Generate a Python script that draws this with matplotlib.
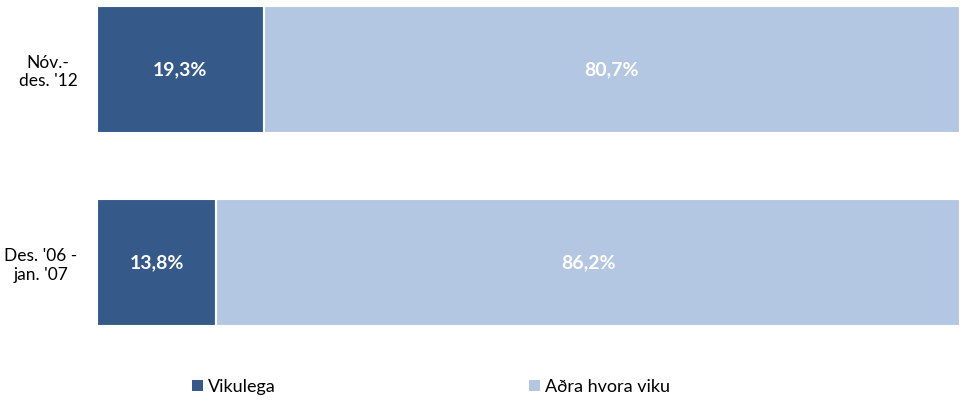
import matplotlib.pyplot as plt
from matplotlib.patches import Patch

plt.rcParams['font.family'] = ['Lato', 'DejaVu Sans']

# periods, bottom to top
periods = ["Des. '06 -\njan. '07", "Nóv.-\ndes. '12"]
vikulega = [13.8, 19.3]
adra_hvora = [86.2, 80.7]
series_names = ['Vikulega', 'Aðra hvora viku']

dark = '#355A89'
light = '#B4C7E2'

fig = plt.figure(figsize=(9.68, 4.03), dpi=100)
ax = fig.add_axes([97 / 968, 77 / 403, 863 / 968, 320 / 403])

ypos = [0, 1]
h = 0.656
ax.barh(ypos, vikulega, height=h, color=dark, edgecolor='white', linewidth=1.5)
ax.barh(ypos, adra_hvora, left=vikulega, height=h, color=light, edgecolor='white', linewidth=1.5)

# value labels in the middle of each segment
for y, a, b in zip(ypos, vikulega, adra_hvora):
    ax.text(a / 2, y, f"{a:.1f}%".replace('.', ','), ha='center', va='center',
            color='white', fontsize=14, fontweight='bold')
    ax.text(a + b / 2, y, f"{b:.1f}%".replace('.', ','), ha='center', va='center',
            color='white', fontsize=14, fontweight='bold')

ax.set_xlim(0, 100)
ax.set_ylim(-h / 2, 1 + h / 2)
ax.set_yticks(ypos)
ax.set_yticklabels(periods, fontsize=12.5, multialignment='center')
ax.tick_params(axis='y', length=0, pad=14)
ax.set_xticks([])
for s in ax.spines.values():
    s.set_visible(False)

handles = [Patch(facecolor=dark), Patch(facecolor=light)]
fig.legend(handles, series_names, loc='center', bbox_to_anchor=(431 / 968, 1 - 387 / 403),
           ncol=2, frameon=False, fontsize=13, handlelength=0.6, handleheight=0.6,
           handletextpad=0.3, columnspacing=14.0)

fig.savefig('out.png', dpi=100)
